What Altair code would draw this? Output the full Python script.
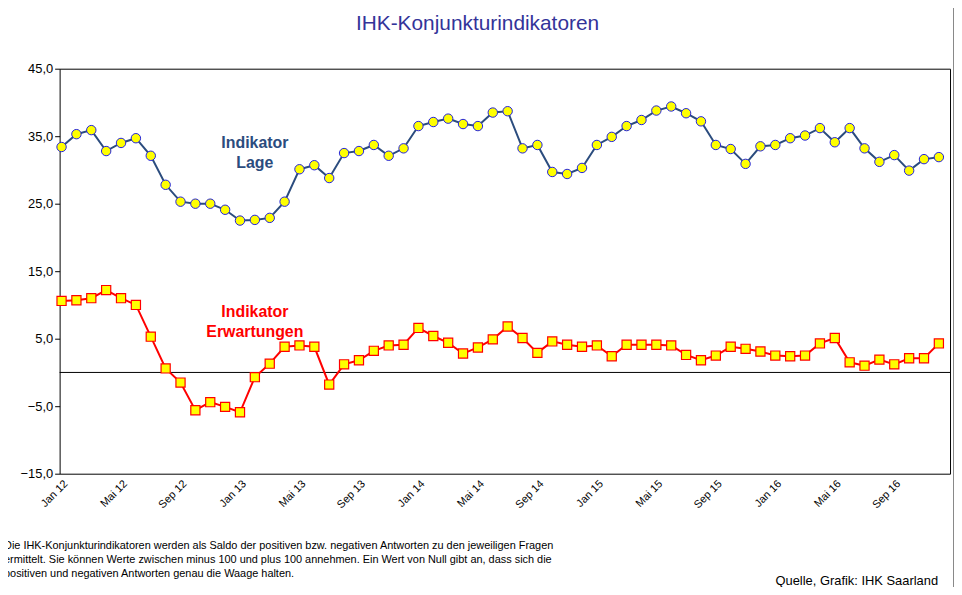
import altair as alt
import pandas as pd

months = [f"{m} {y}" for y in range(12, 17)
          for m in ["Jan", "Feb", "Mrz", "Apr", "Mai", "Jun", "Jul", "Aug", "Sep", "Okt", "Nov", "Dez"]]

lage = [33.4, 35.3, 35.9, 32.8, 34.0, 34.7, 32.1, 27.8, 25.3, 25.0, 25.0, 24.1,
        22.5, 22.6, 22.9, 25.3, 30.1, 30.7, 28.8, 32.5, 32.8, 33.7, 32.1, 33.2,
        36.5, 37.1, 37.6, 36.8, 36.5, 38.5, 38.7, 33.2, 33.7, 29.7, 29.4, 30.3,
        33.7, 34.9, 36.5, 37.4, 38.8, 39.4, 38.4, 37.2, 33.7, 33.1, 30.9, 33.5,
        33.7, 34.7, 35.1, 36.2, 34.1, 36.2, 33.2, 31.2, 32.2, 29.9, 31.6, 31.9]
erwartungen = [10.6, 10.7, 11.0, 12.2, 11.0, 10.0, 5.3, 0.6, -1.5, -5.6, -4.4, -5.1,
               -5.9, -0.7, 1.3, 3.8, 4.0, 3.8, -1.8, 1.2, 1.8, 3.2, 4.0, 4.1,
               6.6, 5.4, 4.4, 2.8, 3.7, 4.9, 6.8, 5.1, 2.9, 4.6, 4.1, 3.8,
               4.0, 2.4, 4.1, 4.1, 4.1, 4.0, 2.6, 1.8, 2.5, 3.8, 3.5, 3.1,
               2.5, 2.4, 2.5, 4.3, 5.1, 1.5, 1.0, 1.9, 1.2, 2.1, 2.1, 4.3]
y_ticks = [-15, -5, 5, 15, 25, 35, 45]

d = pd.DataFrame({"i": range(60), "monat": months, "lage": lage, "erw": erwartungen})

label_expr = "[" + ",".join(f"'{m}'" for m in months) + "][datum.value]"
x = alt.X("i:Q", scale=alt.Scale(domain=[-0.13, 59.75], nice=False, zero=False),
          axis=alt.Axis(title=None, values=list(range(60)), labelExpr=label_expr, labelAngle=-45,
                        labelFontSize=11, labelColor="black", tickColor="black", domain=False,
                        grid=False, labelFont="Liberation Sans", ticks=False, labelPadding=4))
yscale = alt.Scale(domain=[-15, 45], nice=False)
yaxis = alt.Axis(title=None, values=y_ticks, format=".1f", labelExpr="replace(datum.label, '.', ',')",
                 labelFontSize=13, labelColor="black", tickColor="black", domain=False, grid=False,
                 labelFont="Liberation Sans", tickSize=5)

base = alt.Chart(d).encode(x=x)
lage_line = base.mark_line(color="#2B4C7E", strokeWidth=2).encode(y=alt.Y("lage:Q", scale=yscale, axis=yaxis))
lage_pts = base.mark_point(shape="circle", filled=True, fill="#FFFF00", stroke="#2020E0", strokeWidth=1,
                           size=90, opacity=1).encode(y="lage:Q")
erw_line = base.mark_line(color="#FF0000", strokeWidth=2).encode(y="erw:Q")
erw_pts = base.mark_point(shape="square", filled=True, fill="#FFFF00", stroke="#FF0000", strokeWidth=1.2,
                          size=85, opacity=1).encode(y="erw:Q")

zero = alt.Chart(pd.DataFrame({"z": [0]})).mark_rule(color="black", strokeWidth=1).encode(y="z:Q")

txt = pd.DataFrame({"i": [13.0, 13.0], "v": [34.0, 9.0],
                    "t": [["Indikator", "Lage"], ["Indikator", "Erwartungen"]],
                    "c": ["#2B4C7E", "#FF0000"]})
labels = alt.Chart(txt).mark_text(fontSize=16, fontWeight="bold", font="Liberation Sans", lineHeight=20,
                                  baseline="middle").encode(
    x="i:Q", y="v:Q", text="t", color=alt.Color("c:N", scale=None))

title = alt.Chart(pd.DataFrame({"t": ["IHK-Konjunkturindikatoren"]})).mark_text(
    fontSize=21, color="#333399", font="Liberation Sans").encode(
    x=alt.value(421), y=alt.value(-45), text="t")

foot = alt.Chart(pd.DataFrame({"t": [[
    "Die IHK-Konjunkturindikatoren werden als Saldo der positiven bzw. negativen Antworten zu den jeweiligen Fragen",
    "ermittelt. Sie können Werte zwischen minus 100 und plus 100 annehmen. Ein Wert von Null gibt an, dass sich die",
    "positiven und negativen Antworten genau die Waage halten."]]})).mark_text(
    fontSize=11, align="left", baseline="top", font="Liberation Sans", lineHeight=14, color="black").encode(
    x=alt.value(-56), y=alt.value(475), text="t")

quelle = alt.Chart(pd.DataFrame({"t": ["Quelle, Grafik: IHK  Saarland"]})).mark_text(
    fontSize=13, align="right", font="Liberation Sans", color="black").encode(
    x=alt.value(885), y=alt.value(516), text="t")

border = alt.Chart(pd.DataFrame({"t": [0]})).mark_rect(fill=None, stroke="#888888", strokeWidth=1).encode(
    x=alt.value(-59.5), x2=alt.value(900.5), y=alt.value(-66.5), y2=alt.value(526.5))

chart = alt.layer(zero, lage_line, lage_pts, erw_line, erw_pts, labels, title, foot, quelle, border).properties(
    width=897, height=408, padding={"left": 52, "top": 59, "right": 4, "bottom": 112},
    autosize=alt.AutoSizeParams(type="none"), background="white"
).configure_view(stroke="black", strokeWidth=1)

chart.save("out.html", embed_options={"renderer": "svg", "actions": False})
